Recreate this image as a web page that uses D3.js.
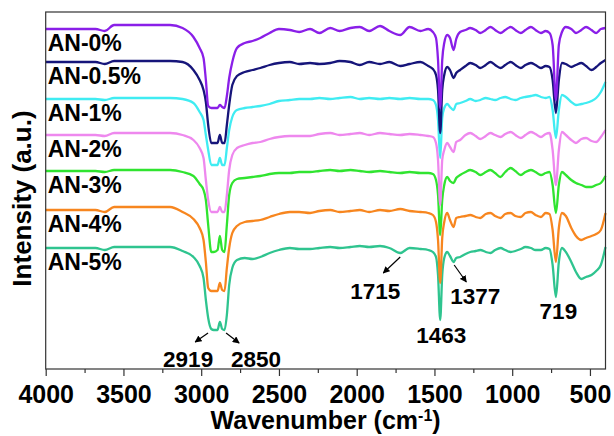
<!DOCTYPE html>
<html>
<head>
<meta charset="utf-8">
<script src="https://cdn.jsdelivr.net/npm/d3@7.9.0/dist/d3.min.js"></script>
<style>
  body { margin: 0; background: #fff; }
  svg { display: block; font-family: "Liberation Sans", Arial, sans-serif; font-weight: bold; }
</style>
</head>
<body>
<svg id="chart" width="614" height="436"></svg>
<script>
// wavenumber grid (cm-1) shared by all spectra
const wavenumbers = [4000, 3800, 3680, 3620, 3560, 3400, 3200, 3120, 3050, 3010,
  2985, 2970, 2955, 2935, 2919, 2895, 2880, 2865, 2850, 2835,
  2820, 2800, 2770, 2720, 2670, 2620, 2560, 2500, 2430, 2370,
  2300, 2240, 2170, 2110, 2040, 1980, 1920, 1850, 1790, 1720,
  1660, 1590, 1540, 1510, 1490, 1477, 1463, 1450, 1437, 1418,
  1400, 1377, 1360, 1335, 1300, 1270, 1235, 1205, 1170, 1140,
  1110, 1075, 1045, 1010, 980, 945, 915, 880, 850, 815,
  785, 760, 740, 719, 700, 680, 655, 620, 590, 555,
  525, 490, 460, 430, 400];

// stacked intensities (a.u.)
const an0 = [34.0, 34.0, 34.0, 33.8, 34.4, 34.4, 34.4, 34.1, 33.2, 32.1,
  31.1, 28.9, 26.3, 26.1, 26.1, 26.1, 26.4, 26.2, 26.1, 27.3,
  29.1, 30.7, 32.1, 32.6, 32.8, 33.1, 33.6, 34.0, 33.9, 33.7,
  34.0, 33.6, 34.1, 33.8, 34.1, 34.2, 33.8, 34.3, 33.8, 33.4,
  34.2, 33.8, 34.0, 33.7, 33.1, 30.9, 26.1, 30.9, 32.6, 33.4,
  33.1, 31.9, 33.0, 33.7, 33.9, 34.1, 33.9, 33.6, 33.9, 34.2,
  33.9, 33.6, 33.9, 34.2, 33.9, 33.6, 33.9, 34.2, 33.9, 33.6,
  33.8, 33.6, 32.4, 26.9, 32.4, 33.7, 34.2, 34.0, 33.6, 33.9,
  34.2, 33.9, 33.6, 34.0, 34.1];
const an05 = [30.7, 30.7, 30.7, 30.5, 30.8, 30.8, 30.8, 30.7, 29.9, 28.9,
  27.9, 26.7, 24.4, 22.6, 22.6, 22.6, 23.4, 22.6, 22.6, 24.4,
  26.4, 28.4, 29.3, 29.7, 29.9, 30.1, 30.4, 30.6, 30.7, 30.5,
  30.6, 30.5, 30.6, 30.8, 30.7, 30.4, 30.7, 30.5, 30.7, 30.3,
  30.5, 30.7, 30.3, 30.0, 29.4, 27.9, 23.6, 27.9, 29.4, 30.2,
  29.9, 29.1, 29.6, 29.9, 30.3, 30.6, 30.4, 30.1, 30.4, 30.7,
  30.4, 30.1, 30.4, 30.7, 30.4, 30.1, 30.4, 30.6, 30.4, 30.1,
  30.3, 30.2, 28.9, 25.6, 28.9, 30.6, 30.5, 30.2, 30.4, 30.6,
  30.3, 29.9, 30.2, 30.6, 30.9];
const an1 = [27.0, 27.0, 27.0, 26.9, 27.1, 27.1, 27.1, 27.0, 26.6, 25.7,
  24.9, 23.4, 21.9, 20.4, 20.4, 20.4, 21.1, 20.4, 20.4, 22.1,
  23.9, 25.2, 25.9, 26.1, 26.2, 26.3, 26.5, 26.8, 26.9, 27.0,
  27.0, 27.1, 27.0, 27.1, 27.2, 27.0, 27.1, 27.0, 27.1, 27.0,
  27.1, 27.0, 27.0, 26.9, 26.4, 24.9, 21.1, 25.1, 26.1, 26.5,
  26.2, 25.9, 26.5, 26.6, 26.8, 27.0, 26.8, 26.9, 27.1, 27.0,
  26.9, 27.1, 27.2, 27.0, 26.9, 27.1, 27.2, 27.3, 27.4, 27.2,
  27.1, 27.2, 25.9, 23.1, 25.9, 27.4, 27.2, 26.7, 26.4, 26.5,
  26.6, 26.8, 27.1, 27.7, 28.7];
const an2 = [23.4, 23.4, 23.4, 23.3, 23.6, 23.6, 23.6, 23.4, 22.9, 22.1,
  21.1, 18.9, 16.9, 15.7, 15.7, 15.7, 16.2, 15.7, 15.7, 17.4,
  19.9, 21.4, 22.1, 22.4, 22.6, 22.7, 23.0, 23.2, 23.3, 23.3,
  23.3, 23.5, 23.6, 23.4, 23.5, 23.6, 23.4, 23.6, 23.5, 23.4,
  23.5, 23.4, 23.3, 23.2, 22.6, 20.9, 16.4, 20.9, 21.9, 22.6,
  22.2, 21.7, 22.7, 22.9, 23.4, 23.6, 23.3, 23.0, 23.3, 23.6,
  23.4, 23.2, 23.5, 23.7, 23.4, 23.1, 23.4, 23.7, 23.5, 23.2,
  23.5, 23.6, 21.9, 18.4, 21.9, 23.7, 23.4, 22.9, 22.6, 23.0,
  23.1, 22.8, 22.7, 23.2, 23.9];
const an3 = [19.8, 19.8, 19.8, 19.7, 19.9, 19.9, 19.9, 19.7, 19.3, 18.5,
  17.9, 16.9, 14.4, 11.7, 11.7, 11.9, 13.3, 11.9, 11.7, 14.4,
  17.4, 18.6, 19.0, 19.1, 19.2, 19.3, 19.5, 19.6, 19.6, 19.7,
  19.7, 19.8, 19.9, 19.8, 19.9, 19.8, 19.7, 19.8, 19.7, 19.6,
  19.7, 19.6, 19.6, 19.5, 18.9, 17.4, 13.4, 16.9, 18.4, 19.2,
  18.8, 18.6, 19.1, 19.4, 19.7, 19.9, 19.7, 19.4, 19.7, 19.9,
  19.6, 19.2, 19.7, 20.1, 19.8, 19.4, 19.7, 19.9, 19.7, 19.4,
  19.6, 19.7, 18.4, 15.6, 18.4, 19.7, 19.4, 18.9, 18.6, 18.4,
  18.2, 18.2, 18.4, 18.6, 19.3];
const an4 = [15.9, 15.9, 15.9, 15.7, 16.2, 16.2, 16.2, 15.7, 15.0, 14.1,
  12.9, 10.7, 8.1, 7.8, 7.8, 7.8, 8.6, 7.9, 7.8, 10.1,
  12.1, 13.6, 14.3, 14.7, 14.8, 14.9, 15.2, 15.5, 15.7, 15.7,
  15.6, 15.8, 15.9, 15.7, 15.8, 15.9, 15.7, 15.9, 15.8, 16.0,
  15.8, 15.7, 15.6, 15.4, 14.7, 12.9, 8.6, 13.1, 14.7, 15.6,
  14.9, 14.2, 15.1, 15.2, 15.3, 15.4, 15.2, 15.1, 15.5, 15.6,
  15.3, 15.1, 15.5, 15.6, 15.3, 15.2, 15.6, 15.7, 15.4, 15.2,
  15.6, 15.5, 13.9, 10.7, 14.1, 15.6, 15.3, 14.1, 13.3, 12.9,
  13.1, 13.3, 13.5, 13.9, 15.6];
const an5 = [12.1, 12.1, 12.1, 11.9, 12.2, 12.2, 12.2, 11.8, 11.2, 10.3,
  9.1, 6.9, 5.1, 4.0, 3.9, 3.9, 4.7, 4.0, 3.9, 5.4,
  8.4, 10.1, 10.9, 11.1, 11.0, 11.2, 11.6, 11.9, 12.1, 12.0,
  12.0, 12.1, 12.2, 12.1, 12.2, 12.3, 12.2, 12.3, 12.1, 11.6,
  12.1, 12.0, 11.9, 11.7, 11.2, 9.4, 4.9, 9.4, 11.1, 11.7,
  11.3, 10.7, 11.1, 11.2, 11.5, 11.7, 11.8, 11.9, 11.7, 11.6,
  11.9, 12.1, 11.9, 11.7, 11.8, 12.0, 12.2, 12.1, 11.9, 11.9,
  12.1, 12.0, 10.4, 7.2, 10.7, 12.1, 11.7, 10.7, 9.7, 9.0,
  9.2, 9.4, 9.8, 10.4, 12.2];

const seriesNames = ["AN-0%", "AN-0.5%", "AN-1%", "AN-2%", "AN-3%", "AN-4%", "AN-5%"];
const seriesValues = [an0, an05, an1, an2, an3, an4, an5];
const seriesColors = ["#8a1fe8", "#16157a", "#40ecf2", "#ee88ee", "#30e430", "#f7861f", "#2fc48f"];

const majorTicks = [4000, 3500, 3000, 2500, 2000, 1500, 1000, 500];
const minorTicks = [3750, 3250, 2750, 2250, 1750, 1250, 750];

// peak annotations: label position and arrow (wavenumber, intensity)
const peakLabels = [
  { text: "2919", wn: 3084, v: 0.2 },
  { text: "2850", wn: 2647, v: 0.2 },
  { text: "1715", wn: 1881, v: 7.0 },
  { text: "1377", wn: 1237, v: 6.5 },
  { text: "1463", wn: 1456, v: 2.6 },
  { text: "719", wn: 703, v: 5.0 }
];
const peakArrows = [
  { from: [2956, 3.6], to: [3039, 2.7] },
  { from: [2840, 3.6], to: [2756, 2.6] },
  { from: [1720, 11.2], to: [1829, 9.6] },
  { from: [1373, 10.4], to: [1295, 8.7] }
];

const svg = d3.select("#chart");
const plotLeft = 45.7, plotRight = 605.5, plotTop = 12, plotBottom = 369;

const x = d3.scaleLinear().domain([4000, 400]).range([plotLeft, plotRight]);
const y = d3.scaleLinear().domain([0, 35.7]).range([plotBottom, plotTop]);

// minor + major ticks
svg.append("g")
  .attr("transform", `translate(0,${plotBottom})`)
  .call(d3.axisBottom(x).tickValues(minorTicks).tickSize(4).tickFormat(""))
  .call(g => g.select(".domain").remove())
  .call(g => g.selectAll("line").attr("stroke", "#333").attr("stroke-width", 1.2));

const xAxis = svg.append("g")
  .attr("transform", `translate(0,${plotBottom})`)
  .call(d3.axisBottom(x).tickValues(majorTicks).tickSize(7).tickFormat(d3.format("d")));
xAxis.select(".domain").remove();
xAxis.selectAll("line").attr("stroke", "#333").attr("stroke-width", 1.2);
xAxis.selectAll("text")
  .attr("y", 34).attr("dy", null)
  .attr("fill", "#000")
  .style("font-size", "25px").style("font-weight", "bold")
  .style("font-family", "'Liberation Sans', Arial, sans-serif");

// spectra
const line = d3.line()
  .x((d, i) => x(wavenumbers[i]))
  .y(d => y(d))
  .curve(d3.curveMonotoneX);

const order = d3.range(seriesValues.length).reverse();
svg.append("g").selectAll("path")
  .data(order)
  .join("path")
  .attr("d", i => line(seriesValues[i]))
  .attr("fill", "none")
  .attr("stroke", i => seriesColors[i])
  .attr("stroke-width", 2.3)
  .attr("stroke-linejoin", "round");

// series labels
svg.append("g").selectAll("text")
  .data(seriesNames)
  .join("text")
  .attr("x", plotLeft + 2)
  .attr("y", (d, i) => y(seriesValues[i][0]) + 22)
  .attr("font-size", 23)
  .attr("fill", "#000")
  .text(d => d);

// frame
svg.append("rect")
  .attr("x", plotLeft).attr("y", plotTop)
  .attr("width", plotRight - plotLeft).attr("height", plotBottom - plotTop)
  .attr("fill", "none").attr("stroke", "#333").attr("stroke-width", 1.2);

// annotations
svg.append("defs").append("marker")
  .attr("id", "arrow")
  .attr("viewBox", "0 0 10 10")
  .attr("refX", 9).attr("refY", 5)
  .attr("markerWidth", 7).attr("markerHeight", 7)
  .attr("markerUnits", "userSpaceOnUse")
  .attr("orient", "auto")
  .append("path").attr("d", "M0,0 L10,5 L0,10 Z").attr("fill", "#000");

svg.append("g").selectAll("line")
  .data(peakArrows)
  .join("line")
  .attr("x1", d => x(d.from[0])).attr("y1", d => y(d.from[1]))
  .attr("x2", d => x(d.to[0])).attr("y2", d => y(d.to[1]))
  .attr("stroke", "#000").attr("stroke-width", 1.2)
  .attr("marker-end", "url(#arrow)");

svg.append("g").selectAll("text")
  .data(peakLabels)
  .join("text")
  .attr("x", d => x(d.wn))
  .attr("y", d => y(d.v))
  .attr("text-anchor", "middle")
  .attr("font-size", 22.5)
  .text(d => d.text);

// axis titles
const xt = svg.append("text")
  .attr("x", (plotLeft + plotRight) / 2)
  .attr("y", 429)
  .attr("text-anchor", "middle")
  .attr("font-size", 25);
xt.append("tspan").text("Wavenumber (cm");
xt.append("tspan").attr("dy", -8).attr("font-size", 16).text("-1");
xt.append("tspan").attr("dy", 8).text(")");

svg.append("text")
  .attr("transform", `translate(31,${(plotTop + plotBottom) / 2 + 8}) rotate(-90)`)
  .attr("text-anchor", "middle")
  .attr("font-size", 26)
  .text("Intensity (a.u.)");
</script>
</body>
</html>
